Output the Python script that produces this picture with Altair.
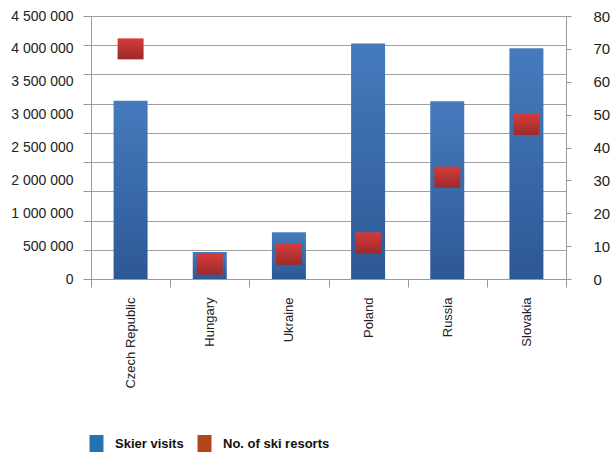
import altair as alt
import pandas as pd

countries = ["Czech Republic", "Hungary", "Ukraine", "Poland", "Russia", "Slovakia"]
skier_visits = [3050000, 460000, 800000, 4030000, 3040000, 3950000]
ski_resorts = [70, 4.5, 7.5, 11, 31, 47]
left_tick_values = [0, 500000, 1000000, 1500000, 2000000, 2500000, 3000000, 3500000, 4000000, 4500000]
right_tick_values = [0, 10, 20, 30, 40, 50, 60, 70, 80]
left_labels = ["0", "500 000", "1 000 000", "2 000 000", "2 500 000", "3 000 000",
               "3 500 000", "4 000 000", "4 500 000"]
series_names = ["Skier visits", "No. of ski resorts"]
legend_colors = ["#2473b0", "#b3451b"]

df = pd.DataFrame({"country": countries, "visits": skier_visits, "resorts": ski_resorts})
leg = pd.DataFrame({"series": series_names})

FONT = "Liberation Sans"
GRAY = "#999999"

bar_grad = alt.Gradient(gradient="linear", x1=0, x2=0, y1=0, y2=1,
                        stops=[alt.GradientStop(color="#457bbd", offset=0),
                               alt.GradientStop(color="#2d5896", offset=1)])
sq_grad = alt.Gradient(gradient="linear", x1=0, x2=0, y1=0, y2=1,
                       stops=[alt.GradientStop(color="#d63b3b", offset=0),
                              alt.GradientStop(color="#9c2a2a", offset=1)])

xenc = alt.X("country:N", sort=None, title=None,
             scale=alt.Scale(paddingInner=0, paddingOuter=0),
             axis=alt.Axis(labelAngle=270, tickBand="extent", tickSize=8, labelPadding=10,
                           domainColor=GRAY, tickColor=GRAY, labelFont=FONT, labelFontSize=13,
                           labelColor="#222222"))

bars = alt.Chart(df).mark_bar(color=bar_grad, size=34, opacity=1).encode(
    x=xenc,
    y=alt.Y("visits:Q", title=None, scale=alt.Scale(domain=[0, 4500000], nice=False),
            axis=alt.Axis(orient="left", values=left_tick_values, labels=False, grid=True,
                          gridColor="#a0a0a0", gridWidth=1, tickSize=8, tickColor=GRAY,
                          domainColor=GRAY)),
)

squares = alt.Chart(df).mark_tick(color=sq_grad, size=26, thickness=21, opacity=1).encode(
    x=alt.X("country:N", sort=None),
    y=alt.Y("resorts:Q", title=None, scale=alt.Scale(domain=[0, 80], nice=False),
            axis=alt.Axis(orient="right", values=right_tick_values, grid=False, tickSize=5,
                          tickColor=GRAY, domainColor=GRAY, labelPadding=22, labelFont=FONT,
                          labelFontSize=15, labelColor="#222222")),
)

label_expr = "[" + ",".join("'" + s + "'" for s in left_labels) + "][round(datum.value/10)]"
label_axis = alt.Chart(df).mark_tick(opacity=0).encode(
    x=alt.X("country:N", sort=None),
    y=alt.Y("resorts:Q", title=None, scale=alt.Scale(domain=[0, 80], nice=False),
            axis=alt.Axis(orient="left", values=right_tick_values, grid=False, ticks=False,
                          tickSize=0, domain=False, labelPadding=18, labelExpr=label_expr,
                          labelFont=FONT, labelFontSize=14, labelColor="#222222",
                          labelOverlap=False)),
)

legend_layer = alt.Chart(leg).mark_square(size=0).encode(
    x=alt.value(0), y=alt.value(0),
    color=alt.Color("series:N", sort=series_names,
                    scale=alt.Scale(domain=series_names, range=legend_colors),
                    legend=alt.Legend(orient="none", legendX=-3, legendY=419, direction="horizontal",
                                      title=None, symbolType="M-0.82,-1H0.82V1H-0.82Z",
                                      symbolSize=289,
                                      symbolStrokeWidth=0, symbolOpacity=1, labelFont=FONT,
                                      labelFontSize=13, labelFontWeight="bold",
                                      labelColor="#111111", labelOffset=10, columnPadding=12)),
)

chart = alt.layer(bars, squares, label_axis, legend_layer).resolve_scale(
    y="independent"
).properties(
    width=475, height=263,
    autosize=alt.AutoSizeParams(type="none"),
    padding={"left": 91, "top": 16, "right": 46, "bottom": 175},
).configure_view(stroke=None).configure(background="white")

chart.save("out.html", embed_options={"renderer": "svg", "actions": False})
